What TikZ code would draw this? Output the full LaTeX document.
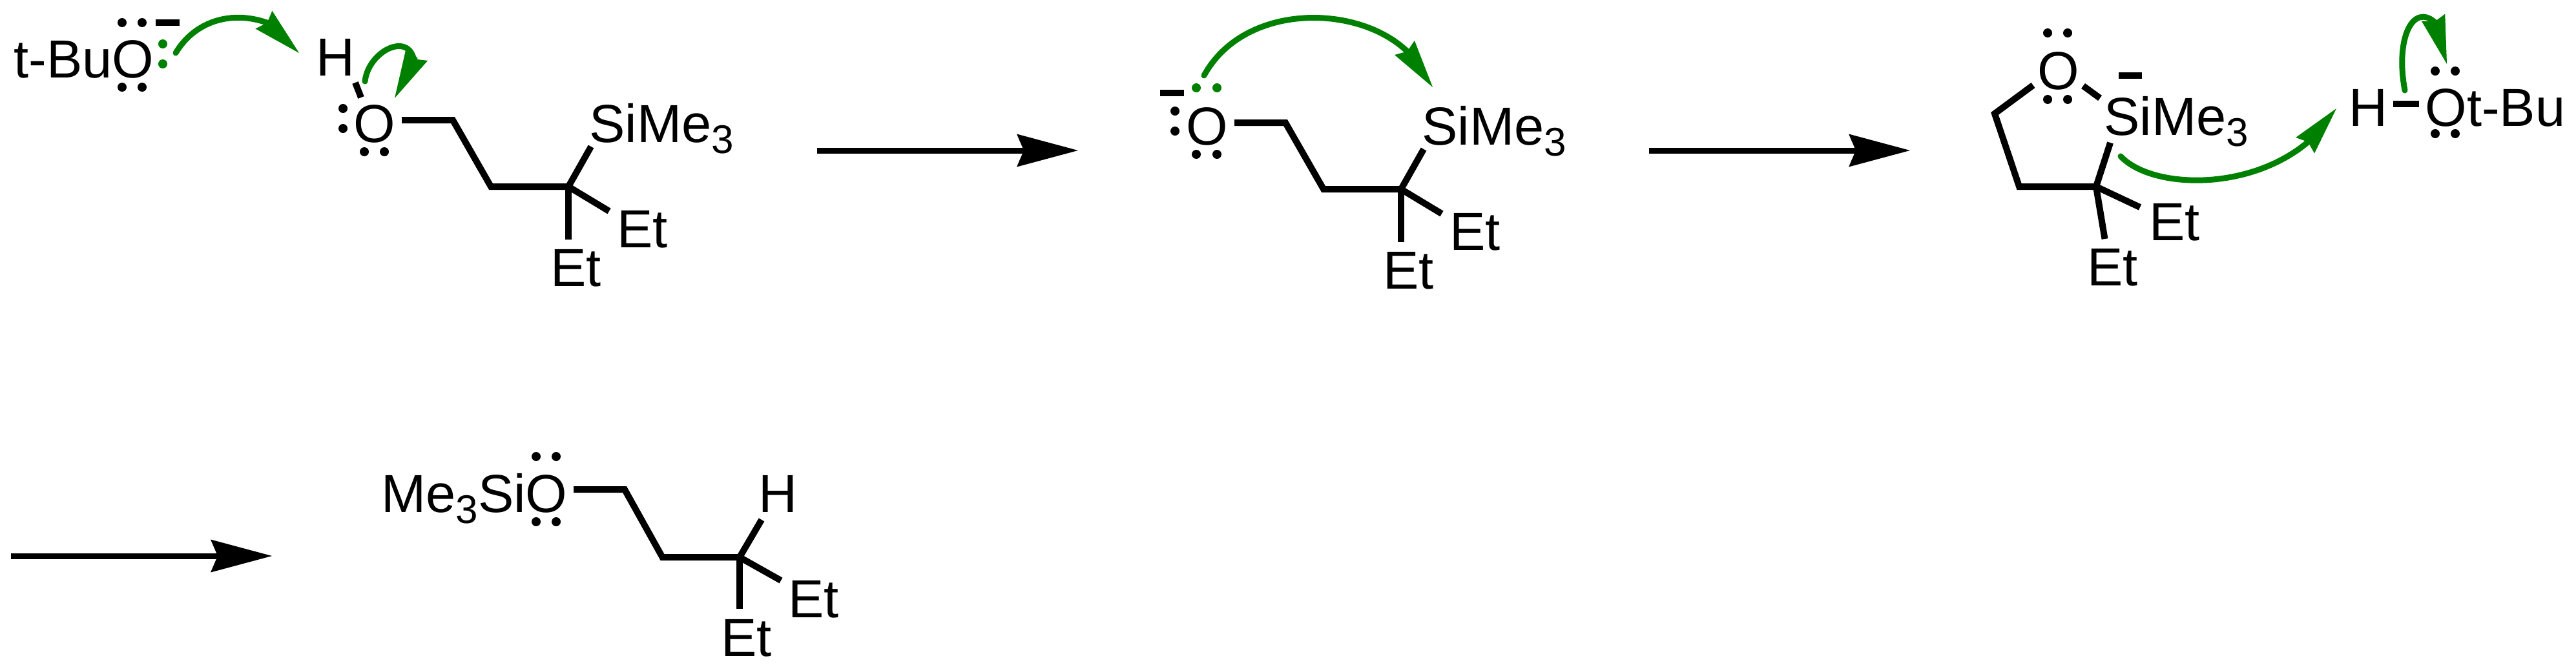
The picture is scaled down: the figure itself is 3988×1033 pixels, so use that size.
\documentclass[tikz,border=0pt]{standalone}
\usepackage{fontspec}
\setmainfont{Liberation Sans}
\usetikzlibrary{arrows.meta}
\definecolor{pushgreen}{RGB}{0,128,0}
\newcommand{\subthree}{\lower8.5pt\hbox{\fontsize{31}{31}\selectfont 3}}
\tikzset{
  atom/.style={anchor=base west,inner sep=0pt,font=\fontsize{41.5}{48}\selectfont},
  bond/.style={line width=5pt,line join=miter},
  rxn/.style={line width=4.5pt,-{Stealth[length=47.5pt,width=25.5pt,inset=5.5pt,line width=0pt]}},
  push/.style={pushgreen,line width=4.5pt,line cap=round,line join=round,-{Stealth[length=37.5pt,width=19pt,inset=3.5pt,line width=0pt]}}
}
\begin{document}
\begin{tikzpicture}[x=0.5pt,y=-0.5pt]
\useasboundingbox (0,0) rectangle (3988,1033);
% first structure
\node[atom] (tbuo) at (21,120) {t-BuO};
\node[atom] (h1) at (489.5,117) {H};
\node[atom] (o1) at (547.5,220) {O};
\node[atom] (si1) at (912,220) {SiMe\subthree};
\node[atom] (etr1) at (955,383) {Et};
\node[atom] (etd1) at (852,443) {Et};
\coordinate (ha) at (550,128);
\coordinate (hb) at (559,151);
\coordinate (a0) at (622,186);
\coordinate (a1) at (701,186);
\coordinate (a2) at (760,289);
\coordinate (a3) at (880,289);
\coordinate (asi) at (915,227);
\coordinate (aetr) at (943,327);
\coordinate (aetd) at (880,371);
\draw[bond] (ha) -- (hb);
\draw[bond] (a0) -- (a1) -- (a2) -- (a3) -- (asi);
\draw[bond] (a3) -- (aetr);
\draw[bond] (a3) -- (aetd);
\coordinate (ma) at (241,35);
\coordinate (mb) at (278,35);
\draw[bond] (ma) -- (mb);
\foreach \x/\y in {189/35,220/35,189/135,220/135,531/168,531/199,564/235,595/235}
  \fill (\x,\y) circle (7);
\foreach \x/\y in {252/68,252/99}
  \fill[pushgreen] (\x,\y) circle (7);
\coordinate (p1a) at (272,82);
\coordinate (p1n) at (413,35);
\coordinate (p1b) at (463,82);
\draw[push] (p1a) .. controls (300,35) and (355,15) .. (p1n) -- (p1b);
\coordinate (p2a) at (565,126);
\coordinate (p2n) at (641,93.5);
\coordinate (p2b) at (611,152);
\draw[push] (p2a) .. controls (570,80) and (632,48) .. (p2n) -- (p2b);
% arrows
\coordinate (r1a) at (1265,233);
\coordinate (r1b) at (1669,233);
\draw[rxn] (r1a) -- (r1b);
\coordinate (r2a) at (2553,233);
\coordinate (r2b) at (2957,233);
\draw[rxn] (r2a) -- (r2b);
\coordinate (r3a) at (17,861);
\coordinate (r3b) at (421,861);
\draw[rxn] (r3a) -- (r3b);
% second structure
\node[atom] (o2) at (1836.5,224) {O};
\node[atom] (si2) at (2201,224) {SiMe\subthree};
\node[atom] (etr2) at (2244,387) {Et};
\node[atom] (etd2) at (2141,447) {Et};
\coordinate (b0) at (1911,190);
\coordinate (b1) at (1990,190);
\coordinate (b2) at (2049,293);
\coordinate (b3) at (2169,293);
\coordinate (bsi) at (2204,231);
\coordinate (betr) at (2232,331);
\coordinate (betd) at (2169,375);
\draw[bond] (b0) -- (b1) -- (b2) -- (b3) -- (bsi);
\draw[bond] (b3) -- (betr);
\draw[bond] (b3) -- (betd);
\coordinate (mc) at (1796,144);
\coordinate (md) at (1833,144);
\draw[bond] (mc) -- (md);
\foreach \x/\y in {1819/172,1819/203,1852/239,1884/239}
  \fill (\x,\y) circle (7);
\foreach \x/\y in {1852/136,1884/136}
  \fill[pushgreen] (\x,\y) circle (7);
\coordinate (p3a) at (1864,117);
\coordinate (p3n) at (2178,79);
\coordinate (p3b) at (2218,135);
\draw[push] (p3a) .. controls (1925,5) and (2100,5) .. (p3n) -- (p3b);
% third structure
\node[atom] (o3) at (3154,138) {O};
\node[atom] (si3) at (3257,209) {SiMe\subthree};
\node[atom] (etr3) at (3327,372) {Et};
\node[atom] (etd3) at (3231,442) {Et};
\node[atom] (h3) at (3636.5,195) {H};
\node[atom] (obu) at (3754,195) {Ot-Bu};
\coordinate (c0) at (3147.5,132);
\coordinate (c1) at (3088,176);
\coordinate (c2) at (3126,289);
\coordinate (c3) at (3245,289);
\coordinate (csi) at (3267,221);
\coordinate (coa) at (3225,133);
\coordinate (cob) at (3251,152);
\coordinate (cetr) at (3313,321);
\coordinate (cetd) at (3258.5,370);
\draw[bond] (c0) -- (c1) -- (c2) -- (c3) -- (csi);
\draw[bond] (coa) -- (cob);
\draw[bond] (c3) -- (cetr);
\draw[bond] (c3) -- (cetd);
\coordinate (me) at (3280,117);
\coordinate (mf) at (3316,117);
\draw[bond] (me) -- (mf);
\coordinate (hoa) at (3705,161);
\coordinate (hob) at (3745,161);
\draw[bond] (hoa) -- (hob);
\foreach \x/\y in {3170/51,3201/51,3170/154,3201/154,3770/110,3801/110,3770/207,3801/207}
  \fill (\x,\y) circle (7);
\coordinate (p4a) at (3283,242);
\coordinate (p4n) at (3573,220);
\coordinate (p4b) at (3617,168);
\draw[push] (p4a) .. controls (3330,292) and (3480,298) .. (p4n) -- (p4b);
\coordinate (p5a) at (3723,140);
\coordinate (p5n) at (3769,34);
\coordinate (p5b) at (3788,99);
\draw[push] (p5a) .. controls (3708,60) and (3735,5) .. (p5n) -- (p5b);
% product
\node[atom] (me3) at (590,793) {Me\subthree SiO};
\node[atom] (h4) at (1174.5,793) {H};
\node[atom] (etr4) at (1220,956) {Et};
\node[atom] (etd4) at (1116,1016) {Et};
\coordinate (d0) at (888,758);
\coordinate (d1) at (967,758);
\coordinate (d2) at (1025.5,863);
\coordinate (d3) at (1145,863);
\coordinate (dh) at (1179,805);
\coordinate (detr) at (1209,899);
\coordinate (detd) at (1145,943);
\draw[bond] (d0) -- (d1) -- (d2) -- (d3) -- (dh);
\draw[bond] (d3) -- (detr);
\draw[bond] (d3) -- (detd);
\foreach \x/\y in {830/707,861/707,830/808,861/808}
  \fill (\x,\y) circle (7);
\end{tikzpicture}
\end{document}
